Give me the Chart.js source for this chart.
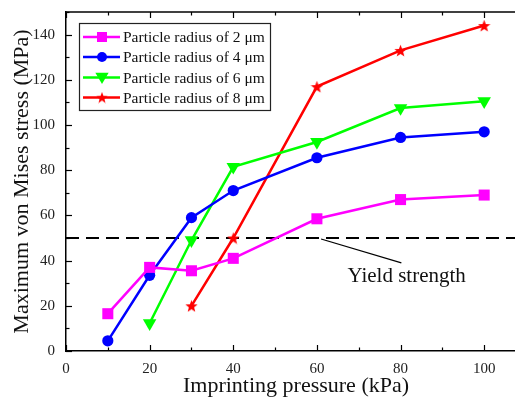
<!DOCTYPE html>
<html>
<head>
<meta charset="utf-8">
<script src="https://cdn.jsdelivr.net/npm/chart.js@4/dist/chart.umd.min.js"></script>
<style>
html,body{margin:0;padding:0;background:#fff;overflow:hidden;width:515px;height:399px;}
canvas{display:block;}
</style>
</head>
<body>
<canvas id="c" width="530" height="399"></canvas>
<script>
const pressures = [10, 20, 30, 40, 60, 80, 100];
const radius2 = [16.5, 37, 35.5, 41, 58.5, 67, 69];
const radius4 = [4.5, 33.5, 59, 71, 85.5, 94.5, 97];
const radius6 = [null, 12.3, 49, 81.5, 92.5, 107.5, 110.5];
const radius8 = [null, null, 20, 50, 117, 133, 144];
const seriesLabels = ['Particle radius of 2 \u03bcm', 'Particle radius of 4 \u03bcm', 'Particle radius of 6 \u03bcm', 'Particle radius of 8 \u03bcm'];
const yieldStrength = 50;
const xTicks = [0, 20, 40, 60, 80, 100];
const yTicks = [0, 20, 40, 60, 80, 100, 120, 140];
const FONT = '"Liberation Serif", "Times New Roman", serif';

function pts(arr) {
  return pressures.map((p, i) => arr[i] == null ? null : {x: p, y: arr[i]}).filter(v => v);
}

function starPath(ctx, cx, cy, R) {
  const r = R * 0.42;
  ctx.beginPath();
  for (let i = 0; i < 10; i++) {
    const a = -Math.PI / 2 + i * Math.PI / 5;
    const rr = i % 2 === 0 ? R : r;
    const px = cx + rr * Math.cos(a), py = cy + rr * Math.sin(a);
    if (i === 0) ctx.moveTo(px, py); else ctx.lineTo(px, py);
  }
  ctx.closePath();
}
function makeStar(size) {
  const cv = document.createElement('canvas');
  cv.width = size; cv.height = size;
  const g = cv.getContext('2d');
  g.fillStyle = '#ff0000';
  starPath(g, size / 2, size / 2 + size * 0.05, size / 2);
  g.fill();
  return cv;
}
const starImg = makeStar(13);
const starSmall = makeStar(12);

const colors = ['#ff00ff', '#0000ff', '#00ff00', '#ff0000'];

function drawMarker(ctx, kind, x, y, s, color) {
  ctx.save();
  ctx.fillStyle = color;
  if (kind === 0) {
    ctx.fillRect(x - s, y - s, 2 * s, 2 * s);
  } else if (kind === 1) {
    ctx.beginPath(); ctx.arc(x, y, s, 0, Math.PI * 2); ctx.fill();
  } else if (kind === 2) {
    ctx.beginPath();
    ctx.moveTo(x - s * 1.15, y - s * 0.8);
    ctx.lineTo(x + s * 1.15, y - s * 0.8);
    ctx.lineTo(x, y + s * 1.1);
    ctx.closePath(); ctx.fill();
  } else {
    ctx.drawImage(starSmall, x - 6, y - 6);
  }
  ctx.restore();
}

const decor = {
  id: 'decor',
  afterDraw(chart) {
    const {ctx, chartArea: a, scales: {x, y}} = chart;
    ctx.save();
    ctx.strokeStyle = '#000';
    ctx.lineWidth = 1.5;
    ctx.beginPath(); ctx.moveTo(a.left, a.top); ctx.lineTo(a.right, a.top); ctx.stroke();
    ctx.lineWidth = 1.2;
    for (let v = 0; v <= 110; v += 10) {
      const px = Math.round(x.getPixelForValue(v)) + 0.5;
      const len = v % 20 === 0 ? 6 : 3.5;
      ctx.beginPath();
      ctx.moveTo(px, a.bottom); ctx.lineTo(px, a.bottom - len);
      ctx.moveTo(px, a.top); ctx.lineTo(px, a.top + len);
      ctx.stroke();
    }
    for (let v = 0; v <= 150; v += 10) {
      const py = Math.round(y.getPixelForValue(v)) + 0.5;
      const len = v % 20 === 0 ? 6 : 3.5;
      ctx.beginPath(); ctx.moveTo(a.left, py); ctx.lineTo(a.left + len, py); ctx.stroke();
    }
    const lx = 79, ly = 23, lw = 191, lh = 87;
    ctx.lineWidth = 1.2;
    ctx.strokeStyle = '#222';
    ctx.strokeRect(lx + 0.5, ly + 0.5, lw, lh);
    ctx.font = '15.5px ' + FONT;
    ctx.textBaseline = 'middle';
    const rows = [37, 57, 77.5, 97.5];
    for (let i = 0; i < 4; i++) {
      const ry = rows[i];
      ctx.strokeStyle = colors[i];
      ctx.lineWidth = 2.5;
      ctx.beginPath(); ctx.moveTo(83, ry); ctx.lineTo(120, ry); ctx.stroke();
      drawMarker(ctx, i, 102, ry, i === 2 ? 5.8 : 5, colors[i]);
      ctx.fillStyle = '#111';
      ctx.fillText(seriesLabels[i], 123, ry + 1);
    }
    const x0 = x.getPixelForValue(61), y0 = y.getPixelForValue(yieldStrength);
    const x1 = x.getPixelForValue(80.2), y1 = y.getPixelForValue(39);
    ctx.strokeStyle = '#000';
    ctx.lineWidth = 1.3;
    ctx.beginPath(); ctx.moveTo(x0, y0 + 1); ctx.lineTo(x1, y1); ctx.stroke();
    ctx.font = '21px ' + FONT;
    ctx.textBaseline = 'alphabetic';
    ctx.fillStyle = '#111';
    ctx.fillText('Yield strength', x.getPixelForValue(67.3), y.getPixelForValue(30.5));
    ctx.restore();
  }
};

const lineW = 2.5;
new Chart(document.getElementById('c'), {
  type: 'line',
  data: {
    datasets: [
      {label: seriesLabels[0], data: pts(radius2), borderColor: colors[0], backgroundColor: colors[0], borderWidth: lineW, pointStyle: 'rect', pointRadius: 7.8, pointBorderWidth: 0},
      {label: seriesLabels[1], data: pts(radius4), borderColor: colors[1], backgroundColor: colors[1], borderWidth: lineW, pointStyle: 'circle', pointRadius: 5.6, pointBorderWidth: 0},
      {label: seriesLabels[2], data: pts(radius6), borderColor: colors[2], backgroundColor: colors[2], borderWidth: lineW, pointStyle: 'triangle', pointRotation: 180, pointRadius: 7.8, pointBorderWidth: 0},
      {label: seriesLabels[3], data: pts(radius8), borderColor: colors[3], backgroundColor: colors[3], borderWidth: lineW, pointStyle: starImg, pointRadius: 7},
      {label: 'Yield strength', data: [{x: 0, y: yieldStrength}, {x: 110, y: yieldStrength}], borderColor: '#000', borderWidth: 2, borderDash: [13, 7], pointRadius: 0}
    ]
  },
  options: {
    responsive: false,
    animation: false,
    events: [],
    layout: {autoPadding: false, padding: {left: 0, top: 12, right: 4, bottom: 0}},
    plugins: {legend: {display: false}, tooltip: {enabled: false}},
    scales: {
      x: {
        type: 'linear', min: 0, max: 110,
        grid: {display: false, drawTicks: false},
        border: {display: true, color: '#000', width: 1.5},
        afterBuildTicks: s => { s.ticks = xTicks.map(v => ({value: v})); },
        afterFit: s => { s.height = 48; s.paddingLeft = 0; s.paddingRight = 0; },
        ticks: {font: {family: FONT, size: 15}, color: '#222', padding: 9, maxRotation: 0},
        title: {display: true, text: 'Imprinting pressure (kPa)', font: {family: FONT, size: 22}, color: '#111', padding: {top: 0, bottom: 0}}
      },
      y: {
        type: 'linear', min: 0, max: 150,
        grid: {display: false, drawTicks: false},
        border: {display: true, color: '#000', width: 1.5},
        afterBuildTicks: s => { s.ticks = yTicks.map(v => ({value: v})); },
        afterFit: s => { s.width = 66; s.paddingTop = 0; s.paddingBottom = 0; },
        ticks: {font: {family: FONT, size: 15}, color: '#222', padding: 11},
        title: {display: true, text: 'Maximum von Mises stress (MPa)', font: {family: FONT, size: 22}, color: '#111', padding: {top: 9, bottom: 0}}
      }
    }
  },
  plugins: [decor]
});
</script>
</body>
</html>
